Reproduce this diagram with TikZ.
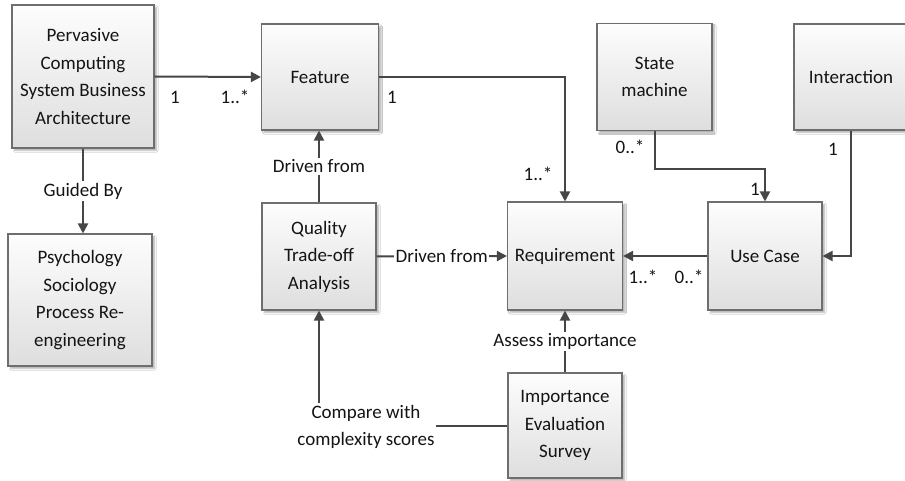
\documentclass[tikz,border=0pt]{standalone}
\usepackage{fontspec}
\setmainfont{Carlito}
\usetikzlibrary{
    arrows.meta,
    positioning,
    shadows.blur
}
\definecolor{ink}{RGB}{20,20,20}
\definecolor{wire}{RGB}{70,70,70}
\definecolor{frame}{RGB}{110,110,110}
\definecolor{boxtop}{RGB}{253,253,253}
\definecolor{boxbottom}{RGB}{222,222,222}
\tikzset{
    line join=miter,
    pop/.style={
        blur shadow={shadow xshift=2.5pt, shadow yshift=-2.5pt,
            shadow blur steps=4, shadow blur radius=1.5pt, shadow opacity=30}
    },
    block/.style={
        rectangle,
        draw=frame,
        line width=1.1pt,
        top color=boxtop,
        bottom color=boxbottom,
        text=ink,
        align=center,
        inner sep=2pt,
        pop
    },
    link/.style={
        -{Triangle[length=10pt, width=10pt]},
        draw=wire,
        line width=2pt
    },
    plainlink/.style={
        -,
        draw=wire,
        line width=2pt
    },
    mult/.style={
        text=ink,
        inner sep=1pt
    },
    tag/.style={
        fill=white,
        text=ink,
        inner sep=1.5pt
    }
}

\begin{document}
\begin{tikzpicture}[
    x=1pt, y=-1pt,
    every node/.style={font=\fontsize{19}{27.5}\selectfont}
]

\useasboundingbox (0,0) rectangle (905,481);
\path[fill=white] (0,0) rectangle (905,481);

% === Blocks ===
\node[block, minimum width=142, minimum height=143] (bpa) at (83,76.5)
    {Pervasive\\Computing\\System Business\\Architecture};
\node[block, minimum width=117, minimum height=106] (feature) at (320,77) {Feature};
\node[block, minimum width=115, minimum height=107] (statem) at (654.5,77) {State\\machine};
\node[block, minimum width=114, minimum height=106] (interact) at (851,77) {Interaction};
\node[block, minimum width=144, minimum height=132] (psych) at (80,300)
    {Psychology\\Sociology\\Process Re-\\engineering};
\node[block, minimum width=114, minimum height=107] (quality) at (319,256.5)
    {Quality\\Trade-off\\Analysis};
\node[block, minimum width=115, minimum height=108] (require) at (565,256) {Requirement};
\node[block, minimum width=114, minimum height=108] (usecase) at (765,256) {Use Case};
\node[block, minimum width=114, minimum height=105] (survey) at (565,425.5)
    {Importance\\Evaluation\\Survey};

% === Associations ===
\draw[link] (bpa.east) -- (feature.west);
\draw[link] (feature.east) -| (require.north);
\coordinate (smbend) at (654.5,169);
\draw[link] (statem.south) -- (smbend) -| (usecase.north);
\draw[link] (interact.south) |- (usecase.east);
\draw[link] (usecase.west) -- (require.east);

% multiplicities
\node[mult] (m1) at (175,97) {1};
\node[mult] (m2) at (235,97) {1..*};
\node[mult] (m3) at (392,97) {1};
\node[mult] (m4) at (538,174) {1..*};
\node[mult] (m5) at (630,147) {0..*};
\node[mult] (m6) at (755,189) {1};
\node[mult] (m7) at (833,149) {1};
\node[mult] (m8) at (643,277) {1..*};
\node[mult] (m9) at (689,277) {0..*};

% === Labelled dependencies ===
\draw[link] (bpa.south) -- node[tag] {Guided By} (bpa.south |- psych.north);
\draw[link] (quality.north) -- node[tag] {Driven from} (quality.north |- feature.south);
\draw[link] (quality.east) -- node[tag] {Driven from} (require.west);
\draw[link] (survey.north) -- node[tag] {Assess importance} (require.south);

% survey back to the trade-off analysis
\node[tag, align=center] (cmp) at (366,427) {Compare with\\complexity scores};
\draw[plainlink] (survey.west) -- (survey.west -| cmp.east);
\draw[link] (quality.south |- cmp.north) -- (quality.south);

\end{tikzpicture}
\end{document}
